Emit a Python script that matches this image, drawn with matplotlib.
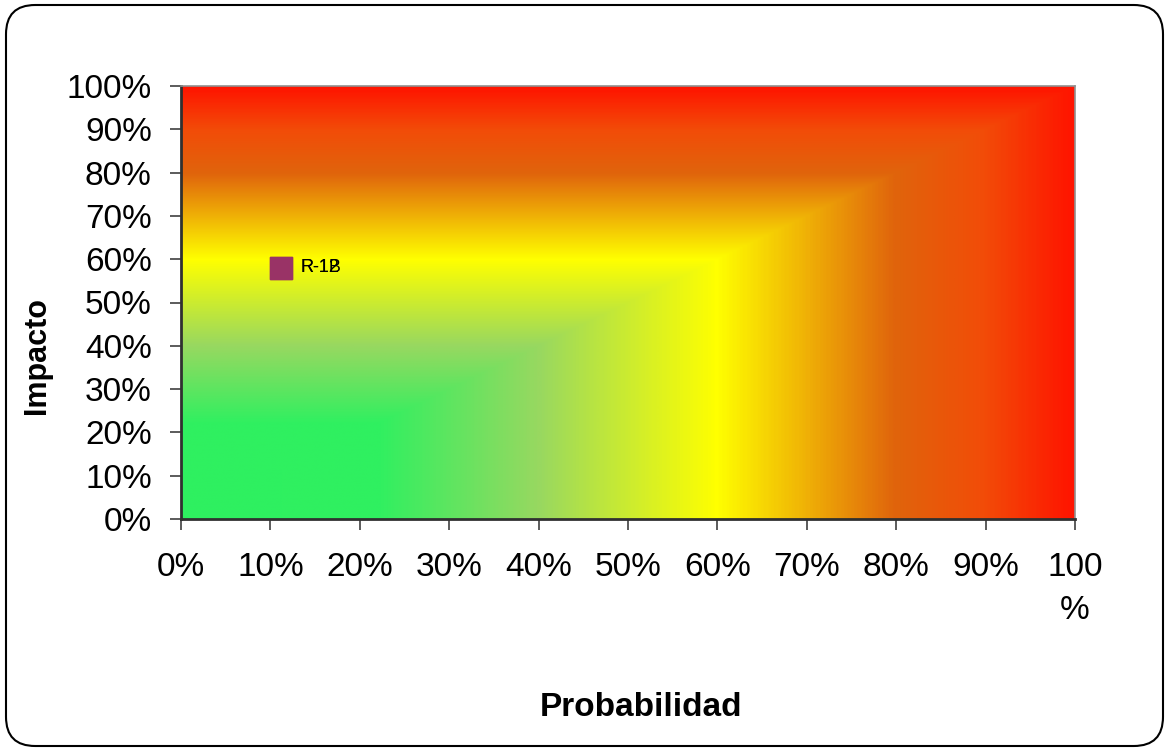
import numpy as np
import matplotlib
matplotlib.use("Agg")
import matplotlib.pyplot as plt
from matplotlib.colors import LinearSegmentedColormap
from matplotlib.patches import FancyBboxPatch

plt.rcParams['font.family'] = ['Liberation Sans', 'DejaVu Sans']

# Risk points (probability, impact)
risk_labels = ["R-12", "R-1B"]
risk_prob = [0.112, 0.112]
risk_impact = [0.58, 0.58]

tick_values = [0.0, 0.1, 0.2, 0.3, 0.4, 0.5, 0.6, 0.7, 0.8, 0.9, 1.0]
y_tick_labels = ["0%", "10%", "20%", "30%", "40%", "50%", "60%", "70%", "80%", "90%", "100%"]
x_tick_labels = ["0%", "10%", "20%", "30%", "40%", "50%", "60%", "70%", "80%", "90%", "100\n%"]

# Risk level colour scale (by the larger of probability and impact)
level_stops = [0.0, 0.22, 0.40, 0.60, 0.80, 0.90, 1.0]
level_colors = ["#2ef060", "#30f060", "#98d860", "#ffff00", "#e0640c", "#f24c08", "#ff1400"]

cmap = LinearSegmentedColormap.from_list("riesgo", list(zip(level_stops, level_colors)))

fig = plt.figure(figsize=(11.68, 7.51), dpi=100)

# Rounded frame around the chart
frame = FancyBboxPatch((6 / 1168, 5 / 751), 1157 / 1168, 741 / 751,
                       boxstyle="round,pad=0,rounding_size=0.025",
                       transform=fig.transFigure, facecolor="none",
                       edgecolor="black", linewidth=1.5, zorder=0,
                       mutation_aspect=1168 / 751)
fig.patches.append(frame)

ax = fig.add_axes([181 / 1168, 1 - 519 / 751, (1075 - 181) / 1168, (519 - 86) / 751])

n = 600
g = np.linspace(0, 1, n)
X, Y = np.meshgrid(g, g)
level = np.maximum(X, Y)
ax.imshow(level, cmap=cmap, vmin=0, vmax=1, extent=[0, 1, 0, 1],
          origin="lower", aspect="auto", interpolation="bilinear", zorder=0)

ax.set_xlim(0, 1)
ax.set_ylim(0, 1)

ax.scatter(risk_prob, risk_impact, marker="D", s=90, color="#3a3acc", zorder=3)
ax.scatter(risk_prob, risk_impact, marker="s", s=260, color="#993366", zorder=4)
for lab, px, py in zip(risk_labels, risk_prob, risk_impact):
    ax.annotate(lab, (px, py), xytext=(14, 0), textcoords="offset points",
                va="center", ha="left", fontsize=13, color="black", zorder=5)

ax.set_xticks(tick_values)
ax.set_yticks(tick_values)
ax.set_xticklabels(x_tick_labels, fontsize=24, linespacing=1.5)
ax.set_yticklabels(y_tick_labels, fontsize=24)
for lbl in ax.get_xticklabels():
    lbl.set_verticalalignment("top")
ax.tick_params(axis="x", length=8, width=1.2, color="#404040", pad=16)
ax.tick_params(axis="y", length=8, width=1.2, color="#404040", pad=13)

for side in ["left", "bottom"]:
    ax.spines[side].set_color("#303030")
    ax.spines[side].set_linewidth(2)
for side in ["top", "right"]:
    ax.spines[side].set_color("#909090")
    ax.spines[side].set_linewidth(1.2)

fig.text(37 / 1168, 1 - 355 / 751, "Impacto", rotation=90, fontsize=22,
         fontweight="bold", ha="center", va="center")
fig.text(641 / 1168, 1 - 708 / 751, "Probabilidad", fontsize=24,
         fontweight="bold", ha="center", va="center")

fig.savefig("out.png", dpi=100)
